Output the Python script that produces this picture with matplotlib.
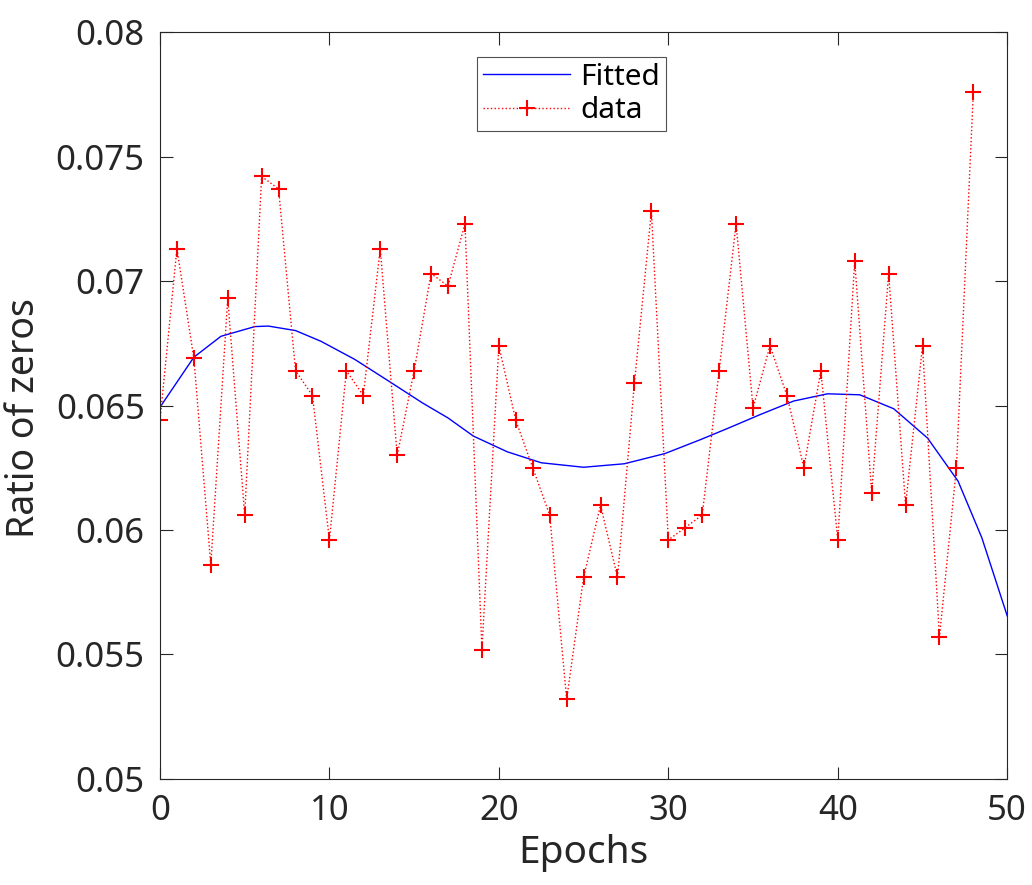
import numpy as np
import matplotlib
matplotlib.use('Agg')
import matplotlib.pyplot as plt

# datos
epocas = np.arange(49)
ratio = [0.0644, 0.0713, 0.0669, 0.0586, 0.0693, 0.0606, 0.0742, 0.0737, 0.0664, 0.0654,
         0.0596, 0.0664, 0.0654, 0.0713, 0.0630, 0.0664, 0.0703, 0.0698, 0.0723, 0.0552,
         0.0674, 0.0644, 0.0625, 0.0606, 0.0532, 0.0581, 0.0610, 0.0581, 0.0659, 0.0728,
         0.0596, 0.0601, 0.0606, 0.0664, 0.0723, 0.0649, 0.0674, 0.0654, 0.0625, 0.0664,
         0.0596, 0.0708, 0.0615, 0.0703, 0.0610, 0.0674, 0.0557, 0.0625, 0.0776]

# curva ajustada
x_ajuste = [0, 2, 3.6, 5.6, 6.4, 8, 9.5, 11.5, 13.5, 15.5, 17, 18.5, 20.5, 22.5, 25,
            27.4, 29.8, 31.9, 33.5, 35.4, 37.4, 39.4, 41.3, 43.3, 45.3, 47.1, 48.5, 50]
y_ajuste = [0.06493, 0.06694, 0.06778, 0.06817, 0.06819, 0.06801, 0.06758, 0.06685,
            0.06598, 0.06510, 0.06450, 0.06377, 0.06314, 0.06270, 0.06252, 0.06266,
            0.06307, 0.06363, 0.06408, 0.06463, 0.06518, 0.06547, 0.06543, 0.06487,
            0.06369, 0.06196, 0.05969, 0.05655]

plt.rcParams['font.family'] = ['Noto Sans', 'DejaVu Sans']
fig = plt.figure(figsize=(10.32, 8.85), dpi=100)
ax = fig.add_axes([0.155, 0.1198, 0.821, 0.844])
ax.plot(x_ajuste, y_ajuste, '-', color='#0000ff', linewidth=1.0, label='Fitted')
ax.plot(epocas, ratio, 'r+:', markersize=12, markeredgewidth=1.5, linewidth=1.0, label='data')
ax.set_xlim(0, 50)
ax.set_ylim(0.05, 0.08)
ax.set_xticks([0, 10, 20, 30, 40, 50])
ax.set_yticks([0.05, 0.055, 0.06, 0.065, 0.07, 0.075, 0.08])
ax.set_yticklabels(['0.05', '0.055', '0.06', '0.065', '0.07', '0.075', '0.08'])
ax.tick_params(direction='in', length=9, width=0.8, top=True, right=True,
               labelsize=25, colors='#262626', pad=11)
for s in ax.spines.values():
    s.set_color('#262626')
    s.set_linewidth(0.8)
ax.set_xlabel('Epochs', fontsize=28, color='#262626', labelpad=4)
ax.set_ylabel('Ratio of zeros', fontsize=27, color='#262626')
ax.yaxis.set_label_coords(-0.138, 0.483)
leg = ax.legend(loc='upper center', bbox_to_anchor=(0.486, 0.967), fontsize=21.5,
                fancybox=False, edgecolor='#262626', handlelength=2.9, borderpad=0.2,
                labelspacing=0.15, handletextpad=0.35, borderaxespad=0)
leg.get_frame().set_linewidth(0.8)
plt.savefig('out.png', dpi=100)
